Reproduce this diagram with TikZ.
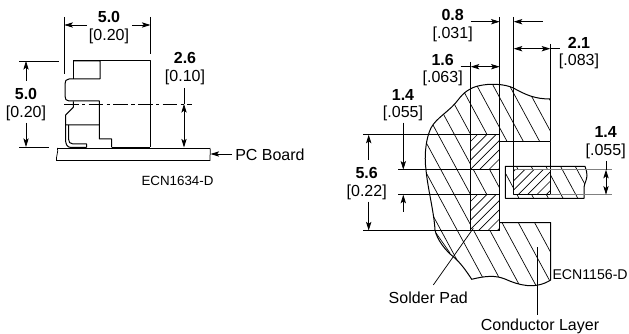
\documentclass[tikz,border=0pt]{standalone}
\usepackage{fontspec}
\setmainfont{Liberation Sans}
\usetikzlibrary{arrows.meta}
\tikzset{
  obj/.style={line width=0.75pt,line join=round},
  dim/.style={line width=0.55pt},
  arr/.style={dim,-{Stealth[length=6.5pt,width=4pt,inset=1.5pt]}},
  darr/.style={dim,{Stealth[length=6.5pt,width=4pt,inset=1.5pt]}-{Stealth[length=6.5pt,width=4pt,inset=1.5pt]}},
  hatchline/.style={line width=0.5pt},
  val/.style={inner sep=0pt,font=\fontsize{12}{14}\selectfont\bfseries},
  alt/.style={inner sep=0pt,font=\fontsize{12}{14}\selectfont},
  lbl/.style={inner sep=0pt,font=\fontsize{12}{14}\selectfont},
  ecn/.style={inner sep=0pt,font=\fontsize{10}{12}\selectfont},
}
\newcommand{\OutlineCond}{(550.3,99) .. controls (535,99) and (526,95) .. (513.3,88) .. controls (505,84) and (490,83) .. (478,86) .. controls (470,88) and (464,92) .. (458,100) .. controls (450,111) and (436,118) .. (431,128) .. controls (426,138) and (424,155) .. (426,170) .. controls (428,190) and (434,212) .. (435,230) .. controls (437,240) and (446,251) .. (453.3,256.7) .. controls (460,262) and (467,272) .. (471.7,279.3) .. controls (485,276) and (495,275) .. (505,279) .. controls (518,285) and (535,290) .. (550.7,280)}
\begin{document}
\begin{tikzpicture}[x=0.75pt,y=-0.75pt]
\useasboundingbox (0,0) rectangle (629,334);
% ---------- left view ----------
\draw[obj] (73,79) -- (73,61) -- (150.4,61) -- (150.4,147.5);
\draw[obj] (73,61) -- (100,61) -- (100,79) -- (69,79) .. controls (66,79) and (65,81) .. (65,84) -- (65,96) .. controls (65,99) and (66,101) .. (69,101) -- (99.3,101) -- (99.3,139) -- (111.7,139) -- (111.7,147.5);
\draw[obj] (73.3,101.5) -- (73.3,107.3) -- (65.7,115) -- (65.7,125) -- (99.3,125);
\draw[obj] (65.5,125) -- (65.5,139) .. controls (65.5,144) and (67,147.5) .. (71,147.5) -- (86.7,147.5);
\draw[obj] (111.7,147.5) -- (150.4,147.5);
\draw[obj] (68.5,125) -- (68.5,139) .. controls (68.5,142) and (70,144) .. (73,144) -- (86.7,144) -- (86.7,147.5);
\draw[dim,dash pattern=on 11pt off 2.5pt on 2.5pt off 2.5pt] (64,104) -- (192,104);
% board
\draw[dim] (57.5,148) -- (210,148);
\draw[dim] (57.5,148) .. controls (58.5,152) and (56,156) .. (56.5,160.5) -- (210,160.5) .. controls (209.5,156) and (211,152) .. (210,148);
% dims
\coordinate (a1) at (64.3,25); \coordinate (a2) at (150.5,25);
\node[val] (t50a) at (109,17) {5.0};
\node[alt] (t20a) at (109,36) {[0.20]};
\draw[dim] (64.3,17) -- (64.3,74);
\draw[dim] (150.5,17) -- (150.5,54);
\draw[arr] (87,25) -- (a1);
\draw[arr] (132,25) -- (a2);
\node[val] (t50b) at (26,94) {5.0};
\node[alt] (t20b) at (26,113) {[0.20]};
\coordinate (b1) at (26,61); \coordinate (b2) at (26,147);
\draw[dim] (19,61) -- (58.7,61);
\draw[dim] (19,147) -- (49,147);
\draw[arr] (26,81) -- (b1);
\draw[arr] (26,123) -- (b2);
\node[val] (t26) at (185,58) {2.6};
\node[alt] (t10) at (185,77) {[0.10]};
\coordinate (c1) at (184,104); \coordinate (c2) at (184,147.5);
\draw[dim] (184,88) -- (c1);
\draw[darr] (c1) -- (c2);
\node[lbl,anchor=west] (pcb) at (235,154.5) {PC Board};
\coordinate (pcbedge) at (210.5,154);
\draw[arr] (pcb.west) ++(-3,-0.5) -- (pcbedge);
\node[ecn] (ecn1) at (177.5,181) {ECN1634-D};
% ---------- right view ----------
% conductor hatch
\begin{scope}
\clip \OutlineCond -- (550.7,222.7) -- (499.7,222.7) -- (499.7,141.7) -- (550.3,141.7) -- cycle;
\foreach \k in {-13,...,3}
  \draw[hatchline] ({550.7+(60-131.7)*0.54+\k*16.3},60) -- ({550.7+(300-131.7)*0.54+\k*16.3},300);
\end{scope}
\draw[hatchline] (436,233) -- (450,253);
% pads
\foreach \yy/\yb in {134.7/169.7,194.7/230.5}{
  \fill[white] (470.7,\yy) rectangle (499.7,\yb);
  \begin{scope}
    \clip (470.7,\yy) rectangle (499.7,\yb);
    \foreach \k in {0,...,9}
      \draw[hatchline] ({470+\k*9.3},\yy-2) -- ({470+\k*9.3-40},\yy+38);
  \end{scope}
}
\draw[obj] \OutlineCond -- (550.7,222.7) -- (499.7,222.7);
\draw[obj] (550.3,99) -- (550.3,141.7) -- (499.7,141.7);
% extension and pad lines
\draw[obj] (470.7,90) -- (470.7,230.5);
\draw[dim] (470.7,62) -- (470.7,90);
\draw[obj] (499.7,134.7) -- (499.7,230.5);
\draw[dim] (499.7,17) -- (499.7,134.7);
\draw[dim] (513.7,17) -- (513.7,166);
\draw[dim] (550.3,44) -- (550.3,99);
\draw[dim] (550.3,141.7) -- (550.3,166);
\draw[obj] (363.3,134.7) -- (499.7,134.7);
\draw[obj] (398,169.7) -- (499.7,169.7);
\draw[obj] (398,194.7) -- (499.7,194.7);
\draw[obj] (363.3,230.5) -- (499.7,230.5);
% lead
\begin{scope}
  \clip (505.3,166.3) -- (585,166.3) .. controls (586,170) and (587.5,173) .. (587,176) .. controls (586.5,181) and (584,184) .. (584,188) -- (584,198.3) -- (505.3,198.3) -- cycle;
  \foreach \k in {-2,...,6}
    \draw[hatchline] ({513+\k*14.7},160) -- ({513+\k*14.7+0.54*45},205);
\end{scope}
\fill[white] (513.7,169.7) rectangle (550.3,194.7);
\begin{scope}
  \clip (513.7,169.7) rectangle (550.3,194.7);
  \foreach \k in {0,...,8}
    \draw[hatchline] ({520+\k*9.3},165) -- ({520+\k*9.3-35},200);
\end{scope}
\draw[obj] (505.3,166.3) -- (585,166.3) .. controls (586,170) and (587.5,173) .. (587,176) .. controls (586.5,181) and (584,184) .. (584,188) -- (584,198.3) -- (505.3,198.3) -- cycle;
\draw[obj] (513.7,166.3) -- (513.7,194.7) -- (550.3,194.7) -- (550.3,166.3);
\draw[dim,gray] (513.7,169.7) -- (611.7,169.7);
\draw[dim,gray] (550.3,194.7) -- (611.7,194.7);
% right 1.4
\node[val] (t14c) at (605.7,132) {1.4};
\node[alt] (t55c) at (605.7,151) {[.055]};
\coordinate (d1) at (606,169.7); \coordinate (d2) at (606,194.7);
\draw[dim] (606,161) -- (d1);
\draw[darr] (d1) -- (d2);
% top dims
\node[val] (t08) at (452.7,15) {0.8};
\node[alt] (t31) at (452.7,34) {[.031]};
\coordinate (e1) at (499.7,21.7); \coordinate (e2) at (513.7,21.7);
\draw[arr] (470.7,21.7) -- (e1);
\draw[arr] (542.7,21.7) -- (e2);
\node[val] (t21) at (579,43) {2.1};
\node[alt] (t83) at (579,61) {[.083]};
\coordinate (f1) at (513.7,48.7); \coordinate (f2) at (550.3,48.7);
\draw[darr] (f1) -- (f2);
\draw[dim] (f2) -- (560,48.7);
\node[val] (t16) at (442.7,60) {1.6};
\node[alt] (t63) at (442.7,78) {[.063]};
\coordinate (g1) at (470.7,66.7); \coordinate (g2) at (499.7,66.7);
\draw[darr] (g1) -- (g2);
\draw[dim] (460.7,66.7) -- (g1);
% left dims
\node[val] (t14a) at (403,95) {1.4};
\node[alt] (t55a) at (403,113) {[.055]};
\coordinate (h1) at (403.3,169.7); \coordinate (h2) at (403.3,194.7);
\draw[arr] (403.3,122.7) -- (h1);
\draw[arr] (403.3,211.7) -- (h2);
\node[val] (t56) at (366.7,173) {5.6};
\node[alt] (t22) at (366.7,192) {[0.22]};
\coordinate (i1) at (368.7,134.7); \coordinate (i2) at (368.7,230.5);
\draw[arr] (368.7,160) -- (i1);
\draw[arr] (368.7,201.7) -- (i2);
% labels
\node[lbl] (sp) at (428.3,297.3) {Solder Pad};
\coordinate (spt) at (473.3,228.3);
\draw[dim] (433.3,285) -- (spt);
\node[lbl] (cl) at (540,326) {Conductor Layer};
\coordinate (clt) at (537.3,246.7);
\draw[dim] (537.3,315) -- (clt);
\node[ecn,anchor=west,font=\fontsize{10.6}{12}\selectfont] (ecn2) at (552.3,274.7) {ECN1156-D};
\end{tikzpicture}
\end{document}
